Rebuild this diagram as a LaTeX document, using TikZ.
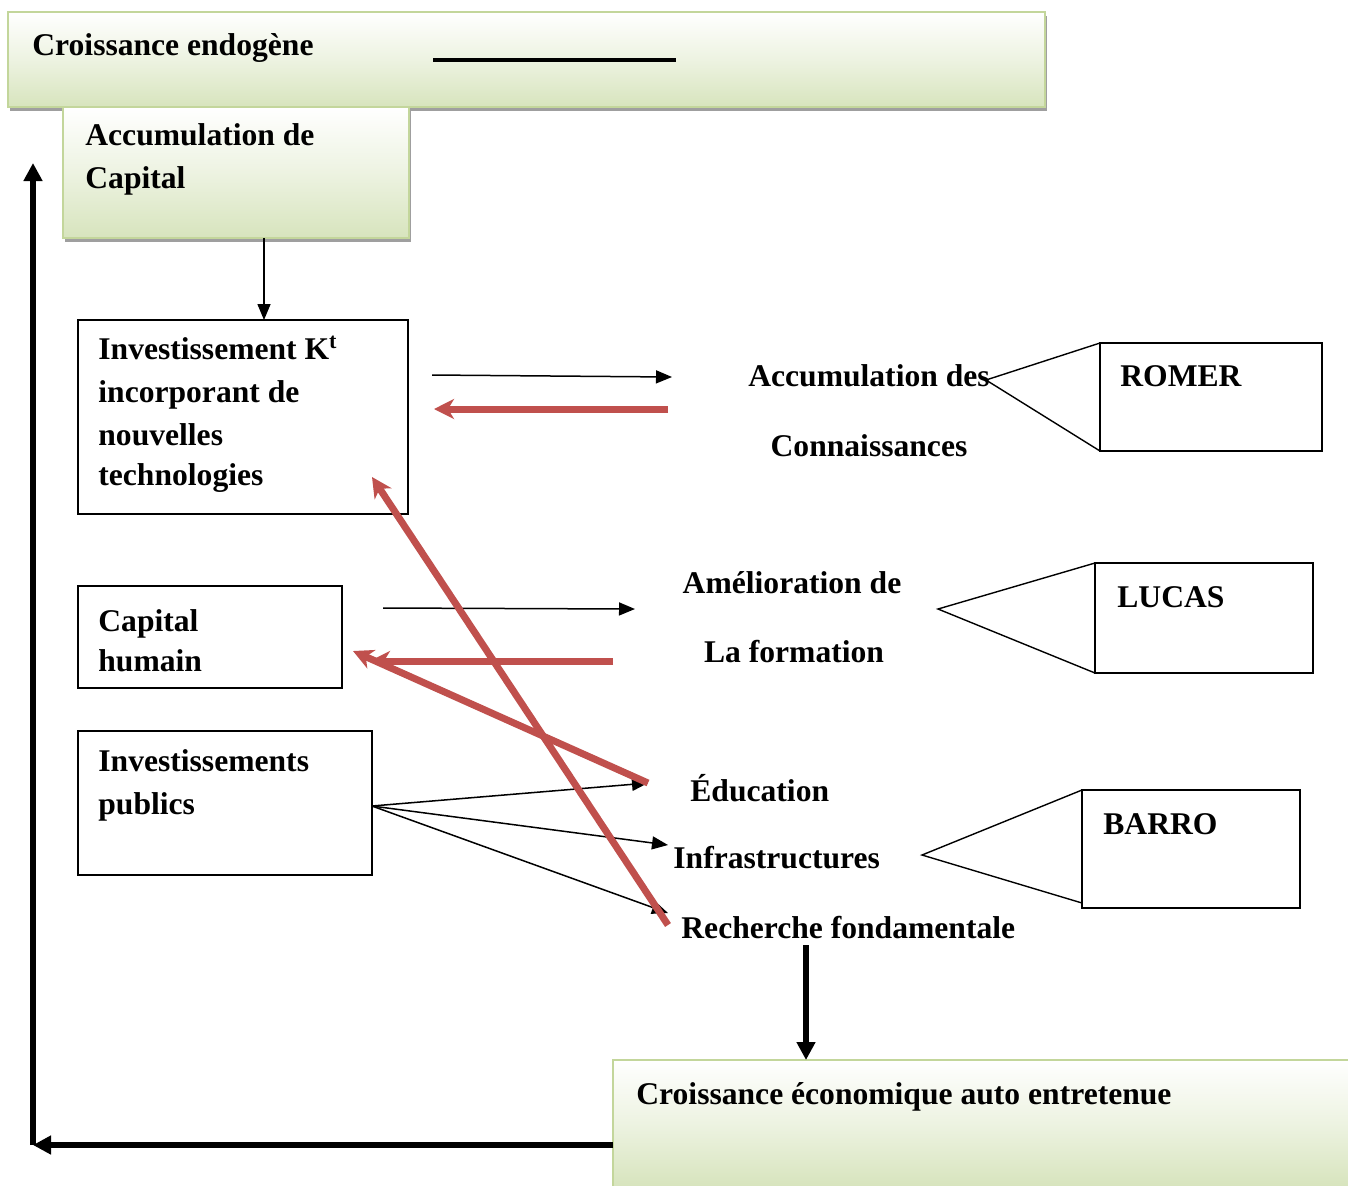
\documentclass[tikz,border=0pt]{standalone}
\usepackage{fontspec}
\setmainfont{Liberation Serif}
\usetikzlibrary{arrows.meta,shadows}
\definecolor{gborder}{RGB}{195,214,155}
\definecolor{gfill}{RGB}{215,228,189}
\definecolor{redarr}{RGB}{192,80,77}
\begin{document}
\begin{tikzpicture}[x=0.5pt,y=-0.5pt,
  txt/.style={font=\fontsize{15.8pt}{21.5pt}\selectfont\bfseries, inner sep=0pt, align=left},
  greenbox/.style={draw=gborder, line width=0.9pt, top color=white, bottom color=gfill, middle color=gfill!45!white, inner sep=0pt, outer sep=0pt,
     drop shadow={shadow xshift=1pt, shadow yshift=-1.8pt, fill=gray!75, opacity=1}},
  plainbox/.style={draw=black, line width=0.7pt, fill=white, inner sep=0pt, outer sep=0pt},
  thinarr/.style={draw=black, line width=0.75pt, -{Triangle[length=8pt,width=6.5pt]}},
  redarrow/.style={draw=redarr, line width=3.5pt, -{Stealth[length=10pt,width=10pt,inset=3pt]}},
  thickarr/.style={draw=black, line width=2.8pt, -{Triangle[length=9pt,width=9pt]}},
  callout/.style={draw=black, line width=0.7pt}]
\useasboundingbox (0,0) rectangle (1348,1185);

% green boxes
\node[greenbox, minimum width=518.5pt, minimum height=47.5pt] (top) at (526.5,59.5) {};
\node[greenbox, minimum width=173pt, minimum height=65.5pt] (acc) at (236,172.5) {};
\node[greenbox, minimum width=369.5pt, minimum height=63.5pt] (bot) at (982.5,1123.5) {};

% plain boxes
\node[plainbox, minimum width=165pt, minimum height=97pt] (inv) at (243,417) {};
\node[plainbox, minimum width=132pt, minimum height=51pt] (hum) at (210,637) {};
\node[plainbox, minimum width=147pt, minimum height=72pt] (pub) at (225,803) {};
\node[plainbox, minimum width=111pt, minimum height=54pt] (romer) at (1211,397) {};
\node[plainbox, minimum width=109pt, minimum height=55pt] (lucas) at (1204,618) {};
\node[plainbox, minimum width=109pt, minimum height=59pt] (barro) at (1191,849) {};

% texts in boxes
\node[txt, anchor=base west] (ttop) at (32,55) {Croissance endogène};
\node[txt, anchor=base west] (tacc1) at (85,145) {Accumulation de};
\node[txt, anchor=base west] (tacc2) at (85,188) {Capital};
\node[txt, anchor=base west] (tinv1) at (98,359) {Investissement K\textsuperscript{t}};
\node[txt, anchor=base west] (tinv2) at (98,402) {incorporant de};
\node[txt, anchor=base west] (tinv3) at (98,445) {nouvelles};
\node[txt, anchor=base west] (tinv4) at (98,485) {technologies};
\node[txt, anchor=base west] (thum1) at (98,631) {Capital};
\node[txt, anchor=base west] (thum2) at (98,671) {humain};
\node[txt, anchor=base west] (tpub1) at (98,771) {Investissements};
\node[txt, anchor=base west] (tpub2) at (98,814) {publics};
\node[txt, anchor=base west] (tromer) at (1120,386) {ROMER};
\node[txt, anchor=base west] (tlucas) at (1117,607) {LUCAS};
\node[txt, anchor=base west] (tbarro) at (1103,834) {BARRO};
\node[txt, anchor=base west] (tbot) at (636,1104) {Croissance économique auto entretenue};

% free labels
\node[txt, anchor=base] (know1) at (869,386) {Accumulation des};
\node[txt, anchor=base] (know2) at (869,456) {Connaissances};
\node[txt, anchor=base] (form1) at (792,593) {Amélioration de};
\node[txt, anchor=base] (form2) at (794,662) {La formation};
\node[txt, anchor=base west] (edu) at (690,801) {Éducation};
\node[txt, anchor=base west] (infra) at (673,868) {Infrastructures};
\node[txt, anchor=base west] (rech) at (681,938) {Recherche fondamentale};

% decorative bar in top box
\coordinate (barA) at (433,60);
\coordinate (barB) at (676,60);
\draw[line width=2pt] (barA) -- (barB);

% callout triangles
\coordinate (apR) at (986,380);
\coordinate (apL) at (938,609);
\coordinate (apB) at (922,855);
\draw[callout] (romer.north west) -- (apR) -- (romer.south west);
\draw[callout] (lucas.north west) -- (apL) -- (lucas.south west);
\draw[callout] (barro.north west) -- (apB) -- ([yshift=2.5pt]barro.south west);

% arrow end coordinates
\coordinate (k1s) at (432,375);
\coordinate (k1e) at (672,377);
\coordinate (k2s) at (668,409);
\coordinate (k2e) at (434,409);
\coordinate (f1s) at (383,608);
\coordinate (f1e) at (635,609);
\coordinate (f2s) at (613,661);
\coordinate (f2e) at (370,661);
\coordinate (eduP) at (648,783);
\coordinate (infP) at (668,845);
\coordinate (recP) at (668,913);
\coordinate (recR) at (668,925);
\coordinate (humR) at (353,651);
\coordinate (invR) at (372,477);
\coordinate (rs) at (806,945);
\coordinate (corner) at (33,1145);
\coordinate (upEnd) at (33,163);

% thin black arrows
\draw[thinarr] ([xshift=14pt]acc.south) -- ([xshift=10.5pt]inv.north);
\draw[thinarr] (k1s) -- (k1e);
\draw[thinarr] (f1s) -- (f1e);
\draw[thinarr] ([yshift=-1.5pt]pub.east) -- (eduP);
\draw[thinarr] ([yshift=-1.5pt]pub.east) -- (infP);
\draw[thinarr] ([yshift=-1.5pt]pub.east) -- (recP);

% red arrows
\draw[redarrow] (k2s) -- (k2e);
\draw[redarrow] (f2s) -- (f2e);
\draw[redarrow] (eduP) -- (humR);
\draw[redarrow] (recR) -- (invR);

% thick black arrows
\draw[thickarr] (rs) -- (rs |- bot.north);
\draw[thickarr] (bot.west |- corner) -- (corner);
\draw[thickarr] (corner) -- (upEnd);
\end{tikzpicture}
\end{document}
